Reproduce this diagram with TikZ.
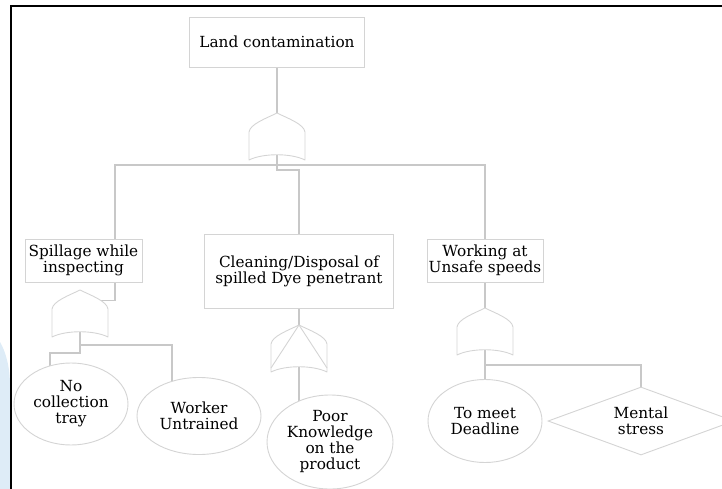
\documentclass[tikz,border=0pt]{standalone}
\usepackage{fontspec}
\setmainfont{DejaVu Serif}
\usetikzlibrary{shapes.geometric,positioning,backgrounds}

\definecolor{linegray}{RGB}{200,200,200}
\definecolor{boxgray}{RGB}{212,212,212}
\definecolor{wmblue}{RGB}{222,236,247}

\tikzset{
  conn/.style={draw=linegray, line width=1.6pt},
  gateline/.style={draw=boxgray, line width=0.9pt, line join=round},
  evbox/.style={draw=boxgray, line width=0.9pt, fill=white, align=center,
    font=\fontsize{15.3}{16}\selectfont, inner sep=0pt},
  basic/.style={ellipse, draw=boxgray, line width=0.9pt, fill=white, inner sep=0pt},
  undev/.style={diamond, draw=boxgray, line width=0.9pt, fill=white, inner sep=0pt,
    aspect=2.7, align=center, font=\fontsize{15.3}{16}\selectfont},
  txt/.style={align=center, font=\fontsize{15.3}{16}\selectfont},
}

% or gate, apex at (#2,#3)
\newcommand{\orgate}[3]{%
  \begin{scope}[shift={(#2,#3)}]
    \draw[gateline] (0,0) .. controls (10,5) and (27,11) .. (28,19) -- (28,47)
      .. controls (14,40) and (-14,40) .. (-28,47) -- (-28,19)
      .. controls (-27,11) and (-10,5) .. (0,0);
    \coordinate (#1top) at (0,0);
    \coordinate (#1in) at (20.6,10.3);
    \coordinate (#1bot) at (0,42);
  \end{scope}}

\begin{document}
\begin{tikzpicture}[x=1pt, y=-1pt]
  \useasboundingbox (0,0) rectangle (722,489);
  \clip (0,0) rectangle (722,489);

  \fill[wmblue] (0,342) .. controls (6,352) and (10,368) .. (10,385) -- (10,489) -- (0,489) -- cycle;
  \draw[black, line width=2pt] (11,489) -- (11,6) -- (722,6);

  % events
  \node[evbox, minimum width=175pt, minimum height=50pt] (top) at (277,42) {Land contamination};
  \node[evbox, minimum width=117pt, minimum height=43pt] (spill) at (83.5,260.5) {Spillage while\\inspecting};
  \node[evbox, minimum width=189pt, minimum height=74pt] (clean) at (299,271) {Cleaning/Disposal of\\spilled Dye penetrant};
  \node[evbox, minimum width=116pt, minimum height=43pt] (work) at (485,260.5) {Working at\\Unsafe speeds};

  % gates
  \orgate{g1}{277}{113}
  \orgate{gL}{80}{290}
  \orgate{g2}{299}{325}
  \draw[gateline] (g2top) -- (271,368) (g2top) -- (327,368);
  \orgate{g3}{485}{308}

  % basic causes
  \node[basic, minimum width=114pt, minimum height=82pt,
    label={[txt]center:No\\collection\\tray}] (nocoll) at (71,404) {};
  \node[basic, minimum width=124pt, minimum height=77pt,
    label={[txt]center:Worker\\Untrained}] (worker) at (199,416) {};
  \node[basic, minimum width=126pt, minimum height=94pt,
    label={[txt]center:Poor\\Knowledge\\on the\\product}] (poor) at (330,442) {};
  \node[basic, minimum width=114pt, minimum height=83pt,
    label={[txt]center:To meet\\Deadline}] (tomeet) at (485,421) {};
  \node[undev, minimum width=186pt, minimum height=68pt] (mental) at (641,421) {Mental\\stress};

  \coordinate (bar) at (0,165);

  \begin{scope}[on background layer]
    \draw[conn] (top) -- (g1top);
    \draw[conn] (g1bot) -- (g1bot |- bar) -- ++(0,5) -| (clean);
    \draw[conn] ([xshift=31.5pt]spill.center) |- (work |- bar) -- (g3top);
    \draw[conn] ([xshift=31.5pt]spill.south) |- (gLin);
    \draw[conn] (gLbot) -- ++(0,13) -| ([xshift=-27pt]worker.center);
    \draw[conn] (gLbot) -- ++(0,21) -| ([xshift=-21pt]nocoll.center);
    \draw[conn] (clean) -- (g2top);
    \draw[conn] (g2bot) -- (g2bot |- poor);
    \draw[conn] (g3bot) -- (tomeet);
    \draw[conn] (g3bot) -- ++(0,15) -| (mental);
  \end{scope}
\end{tikzpicture}
\end{document}
